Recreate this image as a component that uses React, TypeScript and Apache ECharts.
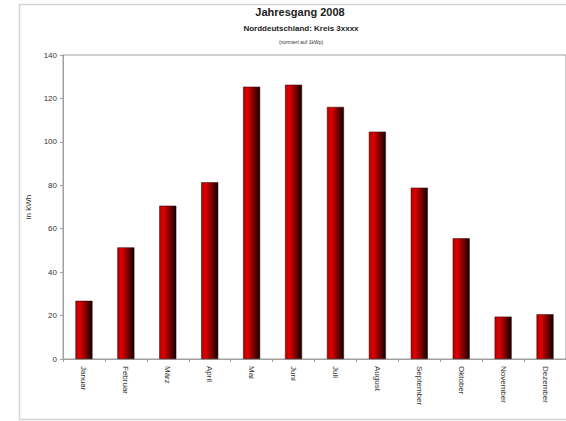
import React, { useEffect, useRef } from "react";
import * as echarts from "echarts";

const months = ["Januar", "Februar", "März", "April", "Mai", "Juni", "Juli", "August", "September", "Oktober", "November", "Dezember"];
const values = [26.8, 51.4, 70.6, 81.4, 125.4, 126.3, 116.1, 104.7, 78.9, 55.6, 19.5, 20.6];
const titleText = "Jahresgang 2008";
const subtitleText = "Norddeutschland: Kreis 3xxxx";
const noteText = "(normiert auf 1kWp)";
const yAxisName = "in kWh";

export default function App() {
  const ref = useRef<HTMLDivElement>(null);
  useEffect(() => {
    if (!ref.current) return;
    const chart = echarts.init(ref.current, null, { renderer: "svg" });
    const font = "'Liberation Sans', Arial, sans-serif";
    chart.setOption({
      animation: false,
      backgroundColor: "#ffffff",
      textStyle: { fontFamily: font },
      graphic: [
        {
          type: "rect",
          shape: { x: 19.5, y: 4.5, width: 600, height: 415 },
          style: { fill: "none", stroke: "#d4d4d4", lineWidth: 1.5 },
          z: -1,
        },
        {
          type: "text",
          x: 300, y: 6,
          style: { text: titleText, font: `bold 11px ${font}`, fill: "#222", textAlign: "center" },
        },
        {
          type: "text",
          x: 301, y: 24,
          style: { text: subtitleText, font: `bold 8px ${font}`, fill: "#222", textAlign: "center" },
        },
        {
          type: "text",
          x: 301, y: 39,
          style: { text: noteText, font: `5px ${font}`, fill: "#333", textAlign: "center" },
        },
      ],
      grid: {
        left: 63, top: 55, width: 516, height: 304,
        show: true, borderColor: "#a0a0a0", borderWidth: 1, backgroundColor: "transparent",
      },
      xAxis: {
        type: "category",
        data: months,
        boundaryGap: true,
        axisLine: { lineStyle: { color: "#a0a0a0", width: 1 } },
        axisTick: { show: true, length: 3, lineStyle: { color: "#a0a0a0" } },
        axisLabel: { rotate: -90, fontSize: 8, color: "#333", margin: 7, fontFamily: font, interval: 0 },
      },
      yAxis: {
        type: "value",
        min: 0, max: 140, interval: 20,
        name: yAxisName,
        nameLocation: "middle",
        nameGap: 31,
        nameTextStyle: { fontSize: 8, color: "#333", fontFamily: font },
        axisLine: { show: true, lineStyle: { color: "#a0a0a0", width: 1 } },
        axisTick: { show: true, length: 3, lineStyle: { color: "#a0a0a0" } },
        splitLine: { show: false },
        axisLabel: { fontSize: 8, color: "#333", margin: 6, fontFamily: font },
      },
      series: [
        {
          type: "bar",
          data: values,
          barWidth: 17,
          itemStyle: {
            borderColor: "#300000",
            borderWidth: 0.5,
            color: new echarts.graphic.LinearGradient(0, 0, 1, 0, [
              { offset: 0, color: "#b00000" },
              { offset: 0.25, color: "#e00000" },
              { offset: 0.6, color: "#800000" },
              { offset: 1, color: "#100000" },
            ]),
          },
        },
      ],
    });
    return () => chart.dispose();
  }, []);
  return (
    <div style={{ position: "fixed", left: 0, top: 0, width: 566, height: 421, overflow: "hidden" }}>
      <div ref={ref} style={{ width: 566, height: 421 }} />
    </div>
  );
}
